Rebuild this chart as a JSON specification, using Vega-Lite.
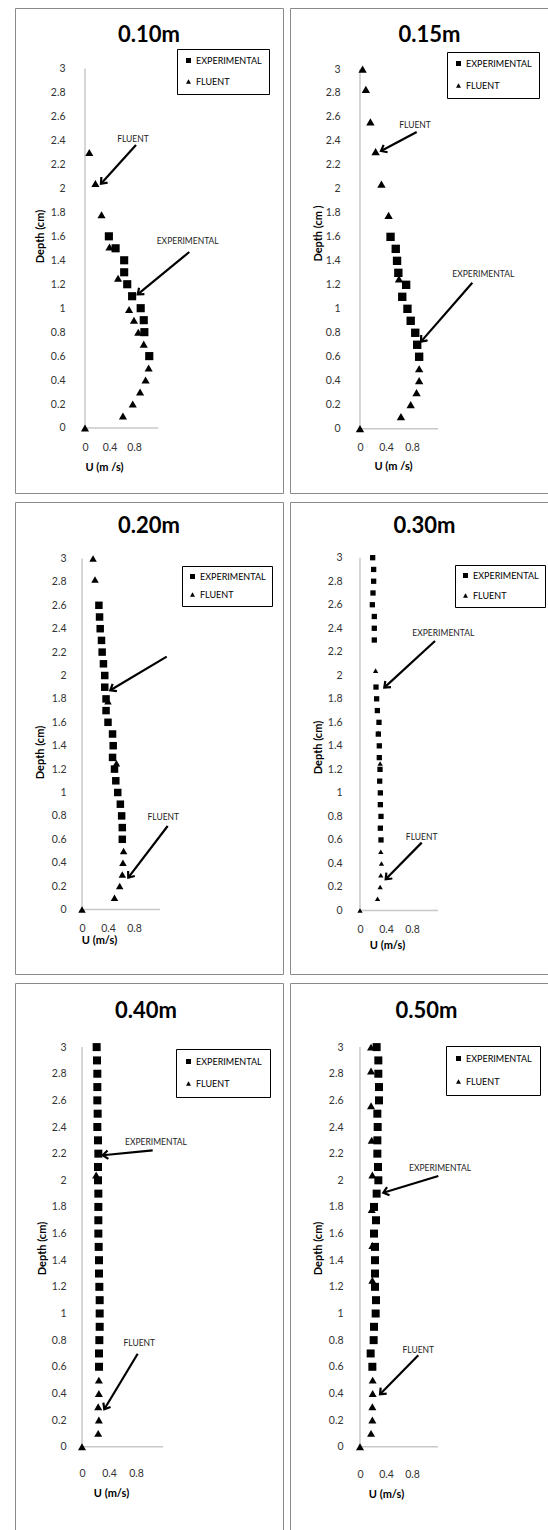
{
  "$schema": "https://vega.github.io/schema/vega-lite/v6.json",
  "padding": {"left": 14, "top": 7, "right": 0, "bottom": 0},
  "background": "white",
  "config": {
    "view": {"stroke": "#8a8a8a", "strokeWidth": 1},
    "font": "Lato",
    "axis": {"labelFont": "Lato", "titleFont": "Lato", "labelFontSize": 10.5, "labelColor": "#333333", "titleFontSize": 11, "titleFontWeight": "bold", "titleColor": "black", "domain": false, "ticks": false, "grid": false, "labelOverlap": false},
    "legend": {"labelFont": "Lato", "labelFontSize": 9, "labelColor": "black", "strokeColor": "black", "symbolFillColor": "black", "symbolStrokeColor": "black", "symbolStrokeWidth": 0, "symbolSize": 25, "labelOffset": 3}
  },
  "datasets": {
    "pts": [
      {"panel": 1, "series": "FLUENT", "u": 0, "depth": 0},
      {"panel": 1, "series": "FLUENT", "u": 0.62, "depth": 0.1},
      {"panel": 1, "series": "FLUENT", "u": 0.78, "depth": 0.2},
      {"panel": 1, "series": "FLUENT", "u": 0.9, "depth": 0.3},
      {"panel": 1, "series": "FLUENT", "u": 0.99, "depth": 0.4},
      {"panel": 1, "series": "FLUENT", "u": 1.04, "depth": 0.5},
      {"panel": 1, "series": "FLUENT", "u": 1.05, "depth": 0.6},
      {"panel": 1, "series": "FLUENT", "u": 0.96, "depth": 0.7},
      {"panel": 1, "series": "FLUENT", "u": 0.87, "depth": 0.8},
      {"panel": 1, "series": "FLUENT", "u": 0.8, "depth": 0.9},
      {"panel": 1, "series": "FLUENT", "u": 0.72, "depth": 0.99},
      {"panel": 1, "series": "FLUENT", "u": 0.54, "depth": 1.25},
      {"panel": 1, "series": "FLUENT", "u": 0.4, "depth": 1.51},
      {"panel": 1, "series": "FLUENT", "u": 0.27, "depth": 1.78},
      {"panel": 1, "series": "FLUENT", "u": 0.17, "depth": 2.04},
      {"panel": 1, "series": "FLUENT", "u": 0.07, "depth": 2.3},
      {"panel": 1, "series": "EXPERIMENTAL", "u": 0.39, "depth": 1.6},
      {"panel": 1, "series": "EXPERIMENTAL", "u": 0.5, "depth": 1.5},
      {"panel": 1, "series": "EXPERIMENTAL", "u": 0.64, "depth": 1.4},
      {"panel": 1, "series": "EXPERIMENTAL", "u": 0.64, "depth": 1.3},
      {"panel": 1, "series": "EXPERIMENTAL", "u": 0.69, "depth": 1.2},
      {"panel": 1, "series": "EXPERIMENTAL", "u": 0.77, "depth": 1.1},
      {"panel": 1, "series": "EXPERIMENTAL", "u": 0.91, "depth": 1.0},
      {"panel": 1, "series": "EXPERIMENTAL", "u": 0.96, "depth": 0.9},
      {"panel": 1, "series": "EXPERIMENTAL", "u": 0.97, "depth": 0.8},
      {"panel": 1, "series": "EXPERIMENTAL", "u": 1.05, "depth": 0.6},

      {"panel": 2, "series": "FLUENT", "u": 0, "depth": 0},
      {"panel": 2, "series": "FLUENT", "u": 0.63, "depth": 0.1},
      {"panel": 2, "series": "FLUENT", "u": 0.78, "depth": 0.2},
      {"panel": 2, "series": "FLUENT", "u": 0.87, "depth": 0.3},
      {"panel": 2, "series": "FLUENT", "u": 0.91, "depth": 0.4},
      {"panel": 2, "series": "FLUENT", "u": 0.91, "depth": 0.5},
      {"panel": 2, "series": "FLUENT", "u": 0.6, "depth": 1.25},
      {"panel": 2, "series": "FLUENT", "u": 0.44, "depth": 1.78},
      {"panel": 2, "series": "FLUENT", "u": 0.33, "depth": 2.04},
      {"panel": 2, "series": "FLUENT", "u": 0.24, "depth": 2.31},
      {"panel": 2, "series": "FLUENT", "u": 0.16, "depth": 2.56},
      {"panel": 2, "series": "FLUENT", "u": 0.09, "depth": 2.83},
      {"panel": 2, "series": "FLUENT", "u": 0.04, "depth": 3.0},
      {"panel": 2, "series": "EXPERIMENTAL", "u": 0.47, "depth": 1.6},
      {"panel": 2, "series": "EXPERIMENTAL", "u": 0.55, "depth": 1.5},
      {"panel": 2, "series": "EXPERIMENTAL", "u": 0.57, "depth": 1.4},
      {"panel": 2, "series": "EXPERIMENTAL", "u": 0.59, "depth": 1.3},
      {"panel": 2, "series": "EXPERIMENTAL", "u": 0.71, "depth": 1.2},
      {"panel": 2, "series": "EXPERIMENTAL", "u": 0.65, "depth": 1.1},
      {"panel": 2, "series": "EXPERIMENTAL", "u": 0.73, "depth": 1.0},
      {"panel": 2, "series": "EXPERIMENTAL", "u": 0.78, "depth": 0.9},
      {"panel": 2, "series": "EXPERIMENTAL", "u": 0.85, "depth": 0.8},
      {"panel": 2, "series": "EXPERIMENTAL", "u": 0.88, "depth": 0.7},
      {"panel": 2, "series": "EXPERIMENTAL", "u": 0.91, "depth": 0.6},

      {"panel": 3, "series": "FLUENT", "u": 0, "depth": 0},
      {"panel": 3, "series": "FLUENT", "u": 0.5, "depth": 0.1},
      {"panel": 3, "series": "FLUENT", "u": 0.58, "depth": 0.2},
      {"panel": 3, "series": "FLUENT", "u": 0.62, "depth": 0.3},
      {"panel": 3, "series": "FLUENT", "u": 0.63, "depth": 0.4},
      {"panel": 3, "series": "FLUENT", "u": 0.64, "depth": 0.5},
      {"panel": 3, "series": "FLUENT", "u": 0.53, "depth": 1.25},
      {"panel": 3, "series": "FLUENT", "u": 0.4, "depth": 1.78},
      {"panel": 3, "series": "FLUENT", "u": 0.2, "depth": 2.82},
      {"panel": 3, "series": "FLUENT", "u": 0.17, "depth": 3.0},
      {"panel": 3, "series": "EXPERIMENTAL", "u": 0.26, "depth": 2.6},
      {"panel": 3, "series": "EXPERIMENTAL", "u": 0.27, "depth": 2.5},
      {"panel": 3, "series": "EXPERIMENTAL", "u": 0.28, "depth": 2.4},
      {"panel": 3, "series": "EXPERIMENTAL", "u": 0.3, "depth": 2.3},
      {"panel": 3, "series": "EXPERIMENTAL", "u": 0.31, "depth": 2.2},
      {"panel": 3, "series": "EXPERIMENTAL", "u": 0.33, "depth": 2.1},
      {"panel": 3, "series": "EXPERIMENTAL", "u": 0.35, "depth": 2.0},
      {"panel": 3, "series": "EXPERIMENTAL", "u": 0.35, "depth": 1.9},
      {"panel": 3, "series": "EXPERIMENTAL", "u": 0.37, "depth": 1.8},
      {"panel": 3, "series": "EXPERIMENTAL", "u": 0.37, "depth": 1.7},
      {"panel": 3, "series": "EXPERIMENTAL", "u": 0.4, "depth": 1.6},
      {"panel": 3, "series": "EXPERIMENTAL", "u": 0.47, "depth": 1.5},
      {"panel": 3, "series": "EXPERIMENTAL", "u": 0.48, "depth": 1.4},
      {"panel": 3, "series": "EXPERIMENTAL", "u": 0.47, "depth": 1.3},
      {"panel": 3, "series": "EXPERIMENTAL", "u": 0.5, "depth": 1.2},
      {"panel": 3, "series": "EXPERIMENTAL", "u": 0.52, "depth": 1.1},
      {"panel": 3, "series": "EXPERIMENTAL", "u": 0.55, "depth": 1.0},
      {"panel": 3, "series": "EXPERIMENTAL", "u": 0.59, "depth": 0.9},
      {"panel": 3, "series": "EXPERIMENTAL", "u": 0.61, "depth": 0.8},
      {"panel": 3, "series": "EXPERIMENTAL", "u": 0.62, "depth": 0.7},
      {"panel": 3, "series": "EXPERIMENTAL", "u": 0.62, "depth": 0.6},

      {"panel": 4, "series": "FLUENT", "u": 0, "depth": 0},
      {"panel": 4, "series": "FLUENT", "u": 0.27, "depth": 0.1},
      {"panel": 4, "series": "FLUENT", "u": 0.31, "depth": 0.2},
      {"panel": 4, "series": "FLUENT", "u": 0.32, "depth": 0.3},
      {"panel": 4, "series": "FLUENT", "u": 0.33, "depth": 0.4},
      {"panel": 4, "series": "FLUENT", "u": 0.32, "depth": 0.5},
      {"panel": 4, "series": "FLUENT", "u": 0.31, "depth": 1.25},
      {"panel": 4, "series": "FLUENT", "u": 0.28, "depth": 1.51},
      {"panel": 4, "series": "FLUENT", "u": 0.24, "depth": 2.04},
      {"panel": 4, "series": "EXPERIMENTAL", "u": 0.195, "depth": 3.0},
      {"panel": 4, "series": "EXPERIMENTAL", "u": 0.21, "depth": 2.9},
      {"panel": 4, "series": "EXPERIMENTAL", "u": 0.21, "depth": 2.8},
      {"panel": 4, "series": "EXPERIMENTAL", "u": 0.2, "depth": 2.7},
      {"panel": 4, "series": "EXPERIMENTAL", "u": 0.19, "depth": 2.6},
      {"panel": 4, "series": "EXPERIMENTAL", "u": 0.22, "depth": 2.5},
      {"panel": 4, "series": "EXPERIMENTAL", "u": 0.22, "depth": 2.4},
      {"panel": 4, "series": "EXPERIMENTAL", "u": 0.22, "depth": 2.3},
      {"panel": 4, "series": "EXPERIMENTAL", "u": 0.246, "depth": 1.9},
      {"panel": 4, "series": "EXPERIMENTAL", "u": 0.256, "depth": 1.8},
      {"panel": 4, "series": "EXPERIMENTAL", "u": 0.267, "depth": 1.7},
      {"panel": 4, "series": "EXPERIMENTAL", "u": 0.292, "depth": 1.6},
      {"panel": 4, "series": "EXPERIMENTAL", "u": 0.282, "depth": 1.5},
      {"panel": 4, "series": "EXPERIMENTAL", "u": 0.297, "depth": 1.4},
      {"panel": 4, "series": "EXPERIMENTAL", "u": 0.297, "depth": 1.3},
      {"panel": 4, "series": "EXPERIMENTAL", "u": 0.308, "depth": 1.2},
      {"panel": 4, "series": "EXPERIMENTAL", "u": 0.303, "depth": 1.1},
      {"panel": 4, "series": "EXPERIMENTAL", "u": 0.313, "depth": 1.0},
      {"panel": 4, "series": "EXPERIMENTAL", "u": 0.313, "depth": 0.9},
      {"panel": 4, "series": "EXPERIMENTAL", "u": 0.323, "depth": 0.8},
      {"panel": 4, "series": "EXPERIMENTAL", "u": 0.313, "depth": 0.7},
      {"panel": 4, "series": "EXPERIMENTAL", "u": 0.323, "depth": 0.6},

      {"panel": 5, "series": "FLUENT", "u": 0, "depth": 0},
      {"panel": 5, "series": "FLUENT", "u": 0.24, "depth": 0.1},
      {"panel": 5, "series": "FLUENT", "u": 0.25, "depth": 0.2},
      {"panel": 5, "series": "FLUENT", "u": 0.24, "depth": 0.3},
      {"panel": 5, "series": "FLUENT", "u": 0.25, "depth": 0.4},
      {"panel": 5, "series": "FLUENT", "u": 0.25, "depth": 0.5},
      {"panel": 5, "series": "FLUENT", "u": 0.21, "depth": 2.04},
      {"panel": 5, "series": "EXPERIMENTAL", "u": 0.217, "depth": 3.0},
      {"panel": 5, "series": "EXPERIMENTAL", "u": 0.222, "depth": 2.9},
      {"panel": 5, "series": "EXPERIMENTAL", "u": 0.227, "depth": 2.8},
      {"panel": 5, "series": "EXPERIMENTAL", "u": 0.227, "depth": 2.7},
      {"panel": 5, "series": "EXPERIMENTAL", "u": 0.227, "depth": 2.6},
      {"panel": 5, "series": "EXPERIMENTAL", "u": 0.232, "depth": 2.5},
      {"panel": 5, "series": "EXPERIMENTAL", "u": 0.227, "depth": 2.4},
      {"panel": 5, "series": "EXPERIMENTAL", "u": 0.237, "depth": 2.3},
      {"panel": 5, "series": "EXPERIMENTAL", "u": 0.242, "depth": 2.2},
      {"panel": 5, "series": "EXPERIMENTAL", "u": 0.237, "depth": 2.1},
      {"panel": 5, "series": "EXPERIMENTAL", "u": 0.237, "depth": 2.0},
      {"panel": 5, "series": "EXPERIMENTAL", "u": 0.242, "depth": 1.9},
      {"panel": 5, "series": "EXPERIMENTAL", "u": 0.242, "depth": 1.8},
      {"panel": 5, "series": "EXPERIMENTAL", "u": 0.242, "depth": 1.7},
      {"panel": 5, "series": "EXPERIMENTAL", "u": 0.242, "depth": 1.6},
      {"panel": 5, "series": "EXPERIMENTAL", "u": 0.247, "depth": 1.5},
      {"panel": 5, "series": "EXPERIMENTAL", "u": 0.252, "depth": 1.4},
      {"panel": 5, "series": "EXPERIMENTAL", "u": 0.252, "depth": 1.3},
      {"panel": 5, "series": "EXPERIMENTAL", "u": 0.257, "depth": 1.2},
      {"panel": 5, "series": "EXPERIMENTAL", "u": 0.262, "depth": 1.1},
      {"panel": 5, "series": "EXPERIMENTAL", "u": 0.262, "depth": 1.0},
      {"panel": 5, "series": "EXPERIMENTAL", "u": 0.262, "depth": 0.9},
      {"panel": 5, "series": "EXPERIMENTAL", "u": 0.257, "depth": 0.8},
      {"panel": 5, "series": "EXPERIMENTAL", "u": 0.252, "depth": 0.7},
      {"panel": 5, "series": "EXPERIMENTAL", "u": 0.252, "depth": 0.6},

      {"panel": 6, "series": "FLUENT", "u": 0, "depth": 0},
      {"panel": 6, "series": "FLUENT", "u": 0.17, "depth": 0.1},
      {"panel": 6, "series": "FLUENT", "u": 0.19, "depth": 0.2},
      {"panel": 6, "series": "FLUENT", "u": 0.19, "depth": 0.3},
      {"panel": 6, "series": "FLUENT", "u": 0.195, "depth": 0.4},
      {"panel": 6, "series": "FLUENT", "u": 0.195, "depth": 0.5},
      {"panel": 6, "series": "FLUENT", "u": 0.19, "depth": 1.25},
      {"panel": 6, "series": "FLUENT", "u": 0.19, "depth": 1.51},
      {"panel": 6, "series": "FLUENT", "u": 0.18, "depth": 1.78},
      {"panel": 6, "series": "FLUENT", "u": 0.19, "depth": 2.04},
      {"panel": 6, "series": "FLUENT", "u": 0.18, "depth": 2.3},
      {"panel": 6, "series": "FLUENT", "u": 0.17, "depth": 2.56},
      {"panel": 6, "series": "FLUENT", "u": 0.17, "depth": 2.82},
      {"panel": 6, "series": "FLUENT", "u": 0.17, "depth": 3.0},
      {"panel": 6, "series": "EXPERIMENTAL", "u": 0.256, "depth": 3.0},
      {"panel": 6, "series": "EXPERIMENTAL", "u": 0.282, "depth": 2.9},
      {"panel": 6, "series": "EXPERIMENTAL", "u": 0.282, "depth": 2.8},
      {"panel": 6, "series": "EXPERIMENTAL", "u": 0.292, "depth": 2.7},
      {"panel": 6, "series": "EXPERIMENTAL", "u": 0.292, "depth": 2.6},
      {"panel": 6, "series": "EXPERIMENTAL", "u": 0.267, "depth": 2.5},
      {"panel": 6, "series": "EXPERIMENTAL", "u": 0.272, "depth": 2.4},
      {"panel": 6, "series": "EXPERIMENTAL", "u": 0.267, "depth": 2.3},
      {"panel": 6, "series": "EXPERIMENTAL", "u": 0.267, "depth": 2.2},
      {"panel": 6, "series": "EXPERIMENTAL", "u": 0.277, "depth": 2.1},
      {"panel": 6, "series": "EXPERIMENTAL", "u": 0.282, "depth": 2.0},
      {"panel": 6, "series": "EXPERIMENTAL", "u": 0.256, "depth": 1.9},
      {"panel": 6, "series": "EXPERIMENTAL", "u": 0.215, "depth": 1.8},
      {"panel": 6, "series": "EXPERIMENTAL", "u": 0.246, "depth": 1.7},
      {"panel": 6, "series": "EXPERIMENTAL", "u": 0.215, "depth": 1.6},
      {"panel": 6, "series": "EXPERIMENTAL", "u": 0.231, "depth": 1.5},
      {"panel": 6, "series": "EXPERIMENTAL", "u": 0.231, "depth": 1.4},
      {"panel": 6, "series": "EXPERIMENTAL", "u": 0.231, "depth": 1.3},
      {"panel": 6, "series": "EXPERIMENTAL", "u": 0.231, "depth": 1.2},
      {"panel": 6, "series": "EXPERIMENTAL", "u": 0.246, "depth": 1.1},
      {"panel": 6, "series": "EXPERIMENTAL", "u": 0.241, "depth": 1.0},
      {"panel": 6, "series": "EXPERIMENTAL", "u": 0.215, "depth": 0.9},
      {"panel": 6, "series": "EXPERIMENTAL", "u": 0.21, "depth": 0.8},
      {"panel": 6, "series": "EXPERIMENTAL", "u": 0.164, "depth": 0.7},
      {"panel": 6, "series": "EXPERIMENTAL", "u": 0.19, "depth": 0.6}
    ],
    "ann": [
      {"panel": 1, "label": "FLUENT", "tx": 0.784, "ty": 2.41, "x1": 0.833, "y1": 2.362, "x2": 0.261, "y2": 2.039, "dir": 132},
      {"panel": 1, "label": "EXPERIMENTAL", "tx": 1.678, "ty": 1.561, "x1": 1.704, "y1": 1.469, "x2": 0.861, "y2": 1.116, "dir": 140.7},
      {"panel": 2, "label": "FLUENT", "tx": 0.846, "ty": 2.533, "x1": 0.872, "y1": 2.475, "x2": 0.323, "y2": 2.316, "dir": 152},
      {"panel": 2, "label": "EXPERIMENTAL", "tx": 1.897, "ty": 1.293, "x1": 1.728, "y1": 1.218, "x2": 0.938, "y2": 0.726, "dir": 131},
      {"panel": 3, "label": "", "tx": 1.303, "ty": 2.161, "x1": 1.303, "y1": 2.161, "x2": 0.435, "y2": 1.874, "dir": 149.2},
      {"panel": 3, "label": "FLUENT", "tx": 1.251, "ty": 0.791, "x1": 1.318, "y1": 0.714, "x2": 0.712, "y2": 0.272, "dir": 127.3},
      {"panel": 4, "label": "EXPERIMENTAL", "tx": 1.282, "ty": 2.357, "x1": 1.154, "y1": 2.292, "x2": 0.374, "y2": 1.895, "dir": 137.4},
      {"panel": 4, "label": "FLUENT", "tx": 0.949, "ty": 0.628, "x1": 0.949, "y1": 0.577, "x2": 0.395, "y2": 0.265, "dir": 134.5},
      {"panel": 5, "label": "EXPERIMENTAL", "tx": 1.096, "ty": 2.29, "x1": 1.047, "y1": 2.225, "x2": 0.307, "y2": 2.188, "dir": 174.3},
      {"panel": 5, "label": "FLUENT", "tx": 0.849, "ty": 0.776, "x1": 0.825, "y1": 0.698, "x2": 0.33, "y2": 0.281, "dir": 121},
      {"panel": 6, "label": "EXPERIMENTAL", "tx": 1.231, "ty": 2.095, "x1": 1.205, "y1": 2.032, "x2": 0.358, "y2": 1.907, "dir": 163.1},
      {"panel": 6, "label": "FLUENT", "tx": 0.897, "ty": 0.724, "x1": 0.897, "y1": 0.686, "x2": 0.308, "y2": 0.393, "dir": 134.5}
    ]
  },
  "columns": 2,
  "spacing": {"row": 9, "column": 7},
  "bounds": "flush",
  "resolve": {"scale": {"x": "independent", "y": "independent", "shape": "independent"}},
  "concat": [
        {
          "width": 268, "height": 485,
          "title": {"text": "0.10m", "frame": "group", "anchor": "middle", "baseline": "alphabetic", "offset": -56, "fontSize": 22, "font": "Lato", "fontWeight": "bold", "color": "black"},
          "layer": [
            {"data": {"values": [{}]}, "mark": {"type": "rule", "color": "#c8c8c8", "strokeWidth": 1.5}, "encoding": {"x": {"datum": 0, "type": "quantitative"}, "y": {"datum": 0, "type": "quantitative"}, "y2": {"datum": 3}}},
            {"data": {"values": [{}]}, "mark": {"type": "rule", "color": "#c8c8c8", "strokeWidth": 1.5}, "encoding": {"x": {"datum": 0, "type": "quantitative"}, "x2": {"datum": 1.2}, "y": {"datum": 0, "type": "quantitative"}}},
            {"data": {"name": "pts"}, "transform": [{"filter": "datum.panel == 1"}],
             "mark": {"type": "point", "filled": true, "opacity": 1, "color": "black", "strokeWidth": 0, "size": 66},
             "encoding": {
               "x": {"field": "u", "type": "quantitative", "scale": {"domain": [-1.1438, 3.2353], "nice": false, "zero": false},
                     "axis": {"title": "U (m /s)", "offset": -65, "values": [0, 0.4, 0.8], "format": "~g", "labelOverlap": false, "labelPadding": 14, "titleX": 89, "titleY": 39, "titleBaseline": "middle", "titleAlign": "center"}},
               "y": {"field": "depth", "type": "quantitative", "scale": {"domain": [-0.5426, 3.5058], "nice": false, "zero": false},
                     "axis": {"title": "Depth (cm)", "offset": -70, "values": [0, 0.2, 0.4, 0.6, 0.8, 1, 1.2, 1.4, 1.6, 1.8, 2, 2.2, 2.4, 2.6, 2.8, 3], "tickCount": 40, "format": "~g", "labelOverlap": false, "labelPadding": 20, "titleX": -45, "titleY": 228, "titleAngle": -90, "titleBaseline": "middle", "titleAlign": "center"}},
               "shape": {"field": "series", "type": "nominal", "scale": {"domain": ["EXPERIMENTAL", "FLUENT"], "range": ["square", "triangle-up"]},
                         "legend": {"title": null, "orient": "none", "legendX": 162, "legendY": 41, "padding": 7, "rowPadding": 11}}
             }},
            {"data": {"name": "ann"}, "transform": [{"filter": "datum.panel == 1"}], "mark": {"type": "text", "fontSize": 8.5, "font": "Lato", "color": "#222222"}, "encoding": {"x": {"field": "tx", "type": "quantitative"}, "y": {"field": "ty", "type": "quantitative"}, "text": {"field": "label"}}},
            {"data": {"name": "ann"}, "transform": [{"filter": "datum.panel == 1"}], "mark": {"type": "rule", "color": "black", "strokeWidth": 2.2}, "encoding": {"x": {"field": "x1", "type": "quantitative"}, "y": {"field": "y1", "type": "quantitative"}, "x2": {"field": "x2"}, "y2": {"field": "y2"}}},
            {"data": {"name": "ann"}, "transform": [{"filter": "datum.panel == 1"}], "mark": {"type": "point", "shape": "M-1,-0.8L0,0L-1,0.8", "filled": false, "stroke": "black", "strokeWidth": 2.2, "size": 110, "opacity": 1}, "encoding": {"x": {"field": "x2", "type": "quantitative"}, "y": {"field": "y2", "type": "quantitative"}, "angle": {"field": "dir", "type": "quantitative", "scale": null}}}
          ]
        },
        {
          "width": 259, "height": 485,
          "title": {"text": "0.15m", "frame": "group", "anchor": "middle", "baseline": "alphabetic", "offset": -56, "dx": 10, "fontSize": 22, "font": "Lato", "fontWeight": "bold", "color": "black"},
          "layer": [
            {"data": {"values": [{}]}, "mark": {"type": "rule", "color": "#c8c8c8", "strokeWidth": 1.5}, "encoding": {"x": {"datum": 0, "type": "quantitative"}, "y": {"datum": 0, "type": "quantitative"}, "y2": {"datum": 3}}},
            {"data": {"values": [{}]}, "mark": {"type": "rule", "color": "#c8c8c8", "strokeWidth": 1.5}, "encoding": {"x": {"datum": 0, "type": "quantitative"}, "x2": {"datum": 1.2}, "y": {"datum": 0, "type": "quantitative"}}},
            {"data": {"name": "pts"}, "transform": [{"filter": "datum.panel == 2"}],
             "mark": {"type": "point", "filled": true, "opacity": 1, "color": "black", "strokeWidth": 0, "size": 70},
             "encoding": {
               "x": {"field": "u", "type": "quantitative", "scale": {"domain": [-1.0769, 2.9077], "nice": false, "zero": false},
                     "axis": {"title": "U (m /s)", "offset": -64.3, "values": [0, 0.4, 0.8], "format": "~g", "labelOverlap": false, "labelPadding": 14, "titleX": 103, "titleY": 38, "titleBaseline": "middle", "titleAlign": "center"}},
               "y": {"field": "depth", "type": "quantitative", "scale": {"domain": [-0.5363, 3.5088], "nice": false, "zero": false},
                     "axis": {"title": "Depth (cm )", "offset": -70, "values": [0, 0.2, 0.4, 0.6, 0.8, 1, 1.2, 1.4, 1.6, 1.8, 2, 2.2, 2.4, 2.6, 2.8, 3], "tickCount": 40, "format": "~g", "labelOverlap": false, "labelPadding": 20, "titleX": -42, "titleY": 225, "titleAngle": -90, "titleBaseline": "middle", "titleAlign": "center"}},
               "shape": {"field": "series", "type": "nominal", "scale": {"domain": ["EXPERIMENTAL", "FLUENT"], "range": ["square", "triangle-up"]},
                         "legend": {"title": null, "orient": "none", "legendX": 157, "legendY": 44, "padding": 7, "rowPadding": 12}}
             }},
            {"data": {"name": "ann"}, "transform": [{"filter": "datum.panel == 2"}], "mark": {"type": "text", "fontSize": 8.5, "font": "Lato", "color": "#222222"}, "encoding": {"x": {"field": "tx", "type": "quantitative"}, "y": {"field": "ty", "type": "quantitative"}, "text": {"field": "label"}}},
            {"data": {"name": "ann"}, "transform": [{"filter": "datum.panel == 2"}], "mark": {"type": "rule", "color": "black", "strokeWidth": 2.2}, "encoding": {"x": {"field": "x1", "type": "quantitative"}, "y": {"field": "y1", "type": "quantitative"}, "x2": {"field": "x2"}, "y2": {"field": "y2"}}},
            {"data": {"name": "ann"}, "transform": [{"filter": "datum.panel == 2"}], "mark": {"type": "point", "shape": "M-1,-0.8L0,0L-1,0.8", "filled": false, "stroke": "black", "strokeWidth": 2.2, "size": 110, "opacity": 1}, "encoding": {"x": {"field": "x2", "type": "quantitative"}, "y": {"field": "y2", "type": "quantitative"}, "angle": {"field": "dir", "type": "quantitative", "scale": null}}}
          ]
        },
        {
          "width": 268, "height": 472,
          "title": {"text": "0.20m", "frame": "group", "anchor": "middle", "baseline": "alphabetic", "offset": -53, "fontSize": 22, "font": "Lato", "fontWeight": "bold", "color": "black"},
          "layer": [
            {"data": {"values": [{}]}, "mark": {"type": "rule", "color": "#c8c8c8", "strokeWidth": 1.5}, "encoding": {"x": {"datum": 0, "type": "quantitative"}, "y": {"datum": 0, "type": "quantitative"}, "y2": {"datum": 3}}},
            {"data": {"values": [{}]}, "mark": {"type": "rule", "color": "#c8c8c8", "strokeWidth": 1.5}, "encoding": {"x": {"datum": 0, "type": "quantitative"}, "x2": {"datum": 1.2}, "y": {"datum": 0, "type": "quantitative"}}},
            {"data": {"name": "pts"}, "transform": [{"filter": "datum.panel == 3"}],
             "mark": {"type": "point", "filled": true, "opacity": 1, "color": "black", "strokeWidth": 0, "size": 56},
             "encoding": {
               "x": {"field": "u", "type": "quantitative", "scale": {"domain": [-1.0308, 3.0923], "nice": false, "zero": false},
                     "axis": {"title": "U (m/s)", "offset": -64.5, "values": [0, 0.4, 0.8], "format": "~g", "labelOverlap": false, "labelPadding": 14, "titleX": 84, "titleY": 31, "titleBaseline": "middle", "titleAlign": "center"}},
               "y": {"field": "depth", "type": "quantitative", "scale": {"domain": [-0.5513, 3.4829], "nice": false, "zero": false},
                     "axis": {"title": "Depth (cm)", "offset": -67, "values": [0, 0.2, 0.4, 0.6, 0.8, 1, 1.2, 1.4, 1.6, 1.8, 2, 2.2, 2.4, 2.6, 2.8, 3], "tickCount": 40, "format": "~g", "labelOverlap": false, "labelPadding": 16, "titleX": -42, "titleY": 250, "titleAngle": -90, "titleBaseline": "middle", "titleAlign": "center"}},
               "shape": {"field": "series", "type": "nominal", "scale": {"domain": ["EXPERIMENTAL", "FLUENT"], "range": ["square", "triangle-up"]},
                         "legend": {"title": null, "orient": "none", "legendX": 167, "legendY": 64, "padding": 6, "rowPadding": 8}}
             }},
            {"data": {"name": "ann"}, "transform": [{"filter": "datum.panel == 3"}], "mark": {"type": "text", "fontSize": 8.5, "font": "Lato", "color": "#222222"}, "encoding": {"x": {"field": "tx", "type": "quantitative"}, "y": {"field": "ty", "type": "quantitative"}, "text": {"field": "label"}}},
            {"data": {"name": "ann"}, "transform": [{"filter": "datum.panel == 3"}], "mark": {"type": "rule", "color": "black", "strokeWidth": 2.2}, "encoding": {"x": {"field": "x1", "type": "quantitative"}, "y": {"field": "y1", "type": "quantitative"}, "x2": {"field": "x2"}, "y2": {"field": "y2"}}},
            {"data": {"name": "ann"}, "transform": [{"filter": "datum.panel == 3"}], "mark": {"type": "point", "shape": "M-1,-0.8L0,0L-1,0.8", "filled": false, "stroke": "black", "strokeWidth": 2.2, "size": 110, "opacity": 1}, "encoding": {"x": {"field": "x2", "type": "quantitative"}, "y": {"field": "y2", "type": "quantitative"}, "angle": {"field": "dir", "type": "quantitative", "scale": null}}}
          ]
        },
        {
          "width": 259, "height": 472,
          "title": {"text": "0.30m", "frame": "group", "anchor": "middle", "baseline": "alphabetic", "offset": -53, "dx": 5, "fontSize": 22, "font": "Lato", "fontWeight": "bold", "color": "black"},
          "layer": [
            {"data": {"values": [{}]}, "mark": {"type": "rule", "color": "#c8c8c8", "strokeWidth": 1.5}, "encoding": {"x": {"datum": 0, "type": "quantitative"}, "y": {"datum": 0, "type": "quantitative"}, "y2": {"datum": 3}}},
            {"data": {"values": [{}]}, "mark": {"type": "rule", "color": "#c8c8c8", "strokeWidth": 1.5}, "encoding": {"x": {"datum": 0, "type": "quantitative"}, "x2": {"datum": 1.2}, "y": {"datum": 0, "type": "quantitative"}}},
            {"data": {"name": "pts"}, "transform": [{"filter": "datum.panel == 4"}],
             "mark": {"type": "point", "filled": true, "opacity": 1, "color": "black", "strokeWidth": 0, "size": 28},
             "encoding": {
               "x": {"field": "u", "type": "quantitative", "scale": {"domain": [-1.0769, 2.9077], "nice": false, "zero": false},
                     "axis": {"title": "U (m/s)", "offset": -63.5, "values": [0, 0.4, 0.8], "format": "~g", "labelOverlap": false, "labelPadding": 14, "titleX": 97, "titleY": 35, "titleBaseline": "middle", "titleAlign": "center"}},
               "y": {"field": "depth", "type": "quantitative", "scale": {"domain": [-0.54, 3.4736], "nice": false, "zero": false},
                     "axis": {"title": "Depth (cm)", "offset": -70, "values": [0, 0.2, 0.4, 0.6, 0.8, 1, 1.2, 1.4, 1.6, 1.8, 2, 2.2, 2.4, 2.6, 2.8, 3], "tickCount": 40, "format": "~g", "labelOverlap": false, "labelPadding": 18, "titleX": -42, "titleY": 245, "titleAngle": -90, "titleBaseline": "middle", "titleAlign": "center"}},
               "shape": {"field": "series", "type": "nominal", "scale": {"domain": ["EXPERIMENTAL", "FLUENT"], "range": ["square", "triangle-up"]},
                         "legend": {"title": null, "orient": "none", "legendX": 165, "legendY": 63, "padding": 6, "rowPadding": 10}}
             }},
            {"data": {"name": "ann"}, "transform": [{"filter": "datum.panel == 4"}], "mark": {"type": "text", "fontSize": 8.5, "font": "Lato", "color": "#222222"}, "encoding": {"x": {"field": "tx", "type": "quantitative"}, "y": {"field": "ty", "type": "quantitative"}, "text": {"field": "label"}}},
            {"data": {"name": "ann"}, "transform": [{"filter": "datum.panel == 4"}], "mark": {"type": "rule", "color": "black", "strokeWidth": 2.2}, "encoding": {"x": {"field": "x1", "type": "quantitative"}, "y": {"field": "y1", "type": "quantitative"}, "x2": {"field": "x2"}, "y2": {"field": "y2"}}},
            {"data": {"name": "ann"}, "transform": [{"filter": "datum.panel == 4"}], "mark": {"type": "point", "shape": "M-1,-0.8L0,0L-1,0.8", "filled": false, "stroke": "black", "strokeWidth": 2.2, "size": 110, "opacity": 1}, "encoding": {"x": {"field": "x2", "type": "quantitative"}, "y": {"field": "y2", "type": "quantitative"}, "angle": {"field": "dir", "type": "quantitative", "scale": null}}}
          ]
        },
        {
          "width": 268, "height": 549,
          "title": {"text": "0.40m", "frame": "group", "anchor": "middle", "baseline": "alphabetic", "offset": -57, "dx": -3, "fontSize": 22, "font": "Lato", "fontWeight": "bold", "color": "black"},
          "layer": [
            {"data": {"values": [{}]}, "mark": {"type": "rule", "color": "#c8c8c8", "strokeWidth": 1.5}, "encoding": {"x": {"datum": 0, "type": "quantitative"}, "y": {"datum": 0, "type": "quantitative"}, "y2": {"datum": 3}}},
            {"data": {"values": [{}]}, "mark": {"type": "rule", "color": "#c8c8c8", "strokeWidth": 1.5}, "encoding": {"x": {"datum": 0, "type": "quantitative"}, "x2": {"datum": 1.2}, "y": {"datum": 0, "type": "quantitative"}}},
            {"data": {"name": "pts"}, "transform": [{"filter": "datum.panel == 5"}],
             "mark": {"type": "point", "filled": true, "opacity": 1, "color": "black", "strokeWidth": 0, "size": 64},
             "encoding": {
               "x": {"field": "u", "type": "quantitative", "scale": {"domain": [-0.9926, 2.9778], "nice": false, "zero": false},
                     "axis": {"title": "U (m/s)", "offset": -85.3, "values": [0, 0.4, 0.8], "format": "~g", "labelOverlap": false, "labelPadding": 22, "titleX": 96, "titleY": 47, "titleBaseline": "middle", "titleAlign": "center"}},
               "y": {"field": "depth", "type": "quantitative", "scale": {"domain": [-0.6404, 3.4812], "nice": false, "zero": false},
                     "axis": {"title": "Depth (cm)", "offset": -67, "values": [0, 0.2, 0.4, 0.6, 0.8, 1, 1.2, 1.4, 1.6, 1.8, 2, 2.2, 2.4, 2.6, 2.8, 3], "tickCount": 40, "format": "~g", "labelOverlap": false, "labelPadding": 16, "titleX": -40, "titleY": 265, "titleAngle": -90, "titleBaseline": "middle", "titleAlign": "center"}},
               "shape": {"field": "series", "type": "nominal", "scale": {"domain": ["EXPERIMENTAL", "FLUENT"], "range": ["square", "triangle-up"]},
                         "legend": {"title": null, "orient": "none", "legendX": 161, "legendY": 66, "padding": 8, "rowPadding": 12}}
             }},
            {"data": {"name": "ann"}, "transform": [{"filter": "datum.panel == 5"}], "mark": {"type": "text", "fontSize": 8.5, "font": "Lato", "color": "#222222"}, "encoding": {"x": {"field": "tx", "type": "quantitative"}, "y": {"field": "ty", "type": "quantitative"}, "text": {"field": "label"}}},
            {"data": {"name": "ann"}, "transform": [{"filter": "datum.panel == 5"}], "mark": {"type": "rule", "color": "black", "strokeWidth": 2.2}, "encoding": {"x": {"field": "x1", "type": "quantitative"}, "y": {"field": "y1", "type": "quantitative"}, "x2": {"field": "x2"}, "y2": {"field": "y2"}}},
            {"data": {"name": "ann"}, "transform": [{"filter": "datum.panel == 5"}], "mark": {"type": "point", "shape": "M-1,-0.8L0,0L-1,0.8", "filled": false, "stroke": "black", "strokeWidth": 2.2, "size": 110, "opacity": 1}, "encoding": {"x": {"field": "x2", "type": "quantitative"}, "y": {"field": "y2", "type": "quantitative"}, "angle": {"field": "dir", "type": "quantitative", "scale": null}}}
          ]
        },
        {
          "width": 259, "height": 549,
          "title": {"text": "0.50m", "frame": "group", "anchor": "middle", "baseline": "alphabetic", "offset": -57, "dx": 7, "fontSize": 22, "font": "Lato", "fontWeight": "bold", "color": "black"},
          "layer": [
            {"data": {"values": [{}]}, "mark": {"type": "rule", "color": "#c8c8c8", "strokeWidth": 1.5}, "encoding": {"x": {"datum": 0, "type": "quantitative"}, "y": {"datum": 0, "type": "quantitative"}, "y2": {"datum": 3}}},
            {"data": {"values": [{}]}, "mark": {"type": "rule", "color": "#c8c8c8", "strokeWidth": 1.5}, "encoding": {"x": {"datum": 0, "type": "quantitative"}, "x2": {"datum": 1.2}, "y": {"datum": 0, "type": "quantitative"}}},
            {"data": {"name": "pts"}, "transform": [{"filter": "datum.panel == 6"}],
             "mark": {"type": "point", "filled": true, "opacity": 1, "color": "black", "strokeWidth": 0, "size": 64},
             "encoding": {
               "x": {"field": "u", "type": "quantitative", "scale": {"domain": [-1.0769, 2.9077], "nice": false, "zero": false},
                     "axis": {"title": "U (m/s)", "offset": -85.3, "values": [0, 0.4, 0.8], "format": "~g", "labelOverlap": false, "labelPadding": 23, "titleX": 96, "titleY": 48, "titleBaseline": "middle", "titleAlign": "center"}},
               "y": {"field": "depth", "type": "quantitative", "scale": {"domain": [-0.6404, 3.4812], "nice": false, "zero": false},
                     "axis": {"title": "Depth (cm)", "offset": -70, "values": [0, 0.2, 0.4, 0.6, 0.8, 1, 1.2, 1.4, 1.6, 1.8, 2, 2.2, 2.4, 2.6, 2.8, 3], "tickCount": 40, "format": "~g", "labelOverlap": false, "labelPadding": 17, "titleX": -42, "titleY": 265, "titleAngle": -90, "titleBaseline": "middle", "titleAlign": "center"}},
               "shape": {"field": "series", "type": "nominal", "scale": {"domain": ["EXPERIMENTAL", "FLUENT"], "range": ["square", "triangle-up"]},
                         "legend": {"title": null, "orient": "none", "legendX": 156, "legendY": 63, "padding": 8, "rowPadding": 13}}
             }},
            {"data": {"name": "ann"}, "transform": [{"filter": "datum.panel == 6"}], "mark": {"type": "text", "fontSize": 8.5, "font": "Lato", "color": "#222222"}, "encoding": {"x": {"field": "tx", "type": "quantitative"}, "y": {"field": "ty", "type": "quantitative"}, "text": {"field": "label"}}},
            {"data": {"name": "ann"}, "transform": [{"filter": "datum.panel == 6"}], "mark": {"type": "rule", "color": "black", "strokeWidth": 2.2}, "encoding": {"x": {"field": "x1", "type": "quantitative"}, "y": {"field": "y1", "type": "quantitative"}, "x2": {"field": "x2"}, "y2": {"field": "y2"}}},
            {"data": {"name": "ann"}, "transform": [{"filter": "datum.panel == 6"}], "mark": {"type": "point", "shape": "M-1,-0.8L0,0L-1,0.8", "filled": false, "stroke": "black", "strokeWidth": 2.2, "size": 110, "opacity": 1}, "encoding": {"x": {"field": "x2", "type": "quantitative"}, "y": {"field": "y2", "type": "quantitative"}, "angle": {"field": "dir", "type": "quantitative", "scale": null}}}
          ]
        }
  ]
}
